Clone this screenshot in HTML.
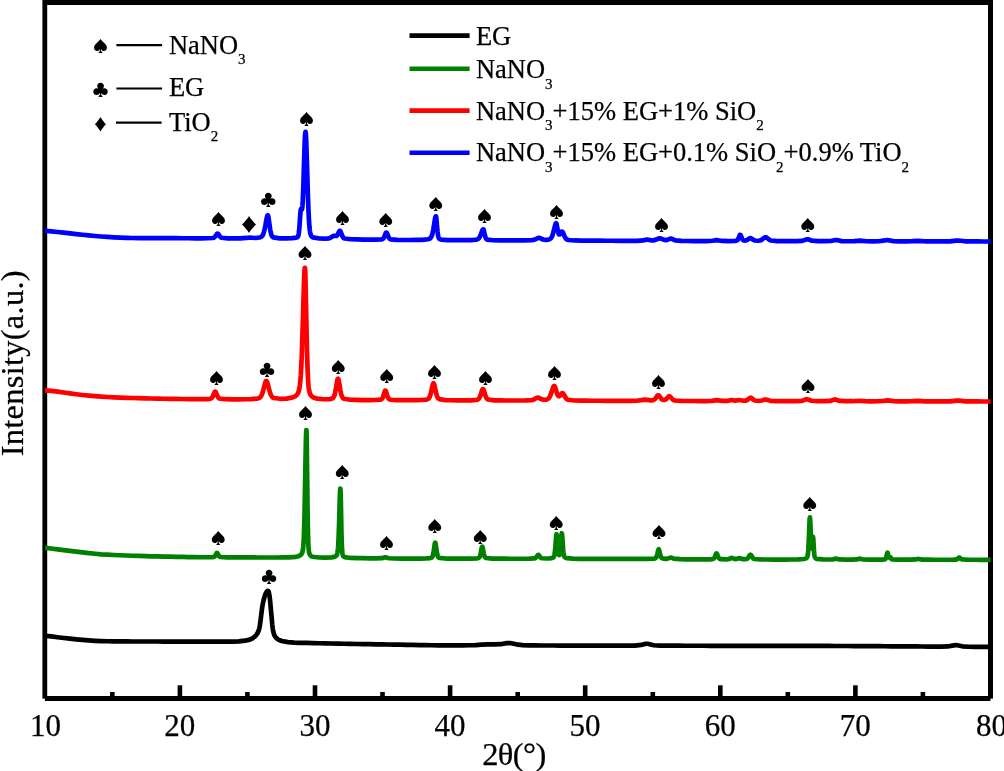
<!DOCTYPE html>
<html lang="en">
<head>
<meta charset="utf-8">
<title>XRD patterns</title>
<style>
html,body{margin:0;padding:0;background:#fff;}
body{width:1004px;height:771px;overflow:hidden;}
svg{display:block;}
text{font-family:"Liberation Serif","DejaVu Serif",serif;fill:#000;stroke:#000;stroke-width:0.25px;}
.c{fill:none;stroke-width:4.7;stroke-linejoin:round;stroke-linecap:butt;}
.t{font-size:31px;text-anchor:middle;}
.l{font-size:26.5px;}
.sub{font-size:15px;}
.s{font-family:"Noto Sans CJK SC","DejaVu Sans",sans-serif;text-anchor:middle;stroke:none;}
</style>
</head>
<body>
<svg width="1004" height="771" viewBox="0 0 1004 771">
<rect x="0" y="0" width="1004" height="771" fill="#fff"/>

<g fill="#000">
<rect x="42.4" y="0" width="4.8" height="698.6"/>
<rect x="988" y="0" width="5" height="698.6"/>
<rect x="44.9" y="0" width="945.6" height="5"/>
<rect x="44.9" y="696" width="945.6" height="5"/>
<rect x="177.6" y="685.3" width="4.6" height="11"/>
<rect x="312.7" y="685.3" width="4.6" height="11"/>
<rect x="447.8" y="685.3" width="4.6" height="11"/>
<rect x="582.9" y="685.3" width="4.6" height="11"/>
<rect x="718.0" y="685.3" width="4.6" height="11"/>
<rect x="853.1" y="685.3" width="4.6" height="11"/>
<rect x="110.0" y="692" width="4.6" height="5"/>
<rect x="245.1" y="692" width="4.6" height="5"/>
<rect x="380.2" y="692" width="4.6" height="5"/>
<rect x="515.4" y="692" width="4.6" height="5"/>
<rect x="650.5" y="692" width="4.6" height="5"/>
<rect x="785.5" y="692" width="4.6" height="5"/>
<rect x="920.6" y="692" width="4.6" height="5"/>
</g>
<path class="c" stroke="#000000" d="M45.00 635.83 L51.25 636.43 L57.50 637.21 L63.75 637.98 L70.00 638.69 L76.25 639.35 L82.50 639.92 L88.75 640.40 L95.00 640.81 L101.25 641.10 L107.50 641.26 L113.75 641.34 L120.00 641.40 L126.25 641.45 L132.50 641.49 L138.75 641.51 L145.00 641.51 L151.25 641.52 L157.50 641.52 L163.75 641.53 L170.00 641.54 L176.25 641.54 L182.50 641.55 L188.75 641.55 L195.00 641.56 L201.25 641.56 L207.50 641.57 L213.75 641.57 L220.00 641.58 L226.25 641.59 L232.50 641.59 L238.75 641.33 L245.00 640.69 L249.75 639.64 L252.50 638.28 L255.00 636.37 L256.25 635.02 L257.50 633.12 L258.25 631.61 L258.75 630.31 L259.25 628.59 L259.75 626.19 L260.50 620.95 L262.00 608.66 L262.75 604.06 L263.75 599.48 L265.00 595.21 L265.75 593.33 L266.50 592.02 L267.25 591.14 L267.50 590.95 L267.75 590.83 L268.00 590.84 L268.25 591.02 L268.50 591.43 L268.75 592.10 L269.00 593.07 L269.50 595.88 L270.00 599.74 L272.25 624.41 L272.75 628.52 L273.25 631.53 L273.75 633.55 L274.25 634.92 L275.00 636.34 L276.25 637.98 L277.75 639.34 L281.75 641.02 L288.00 642.15 L294.25 642.67 L300.50 642.83 L306.75 642.97 L313.00 643.10 L319.25 643.24 L325.50 643.38 L331.75 643.51 L338.00 643.64 L344.25 643.76 L350.50 643.87 L356.75 643.98 L363.00 644.09 L369.25 644.19 L375.50 644.30 L381.75 644.40 L388.00 644.51 L394.25 644.61 L400.50 644.72 L406.75 644.82 L413.00 644.93 L419.25 645.03 L425.50 645.13 L431.75 645.23 L438.00 645.31 L444.25 645.36 L450.50 645.37 L456.75 645.36 L463.00 645.34 L469.25 645.26 L475.50 645.04 L481.75 644.65 L488.00 644.36 L494.25 644.47 L500.50 644.21 L506.75 643.14 L510.00 643.04 L516.25 644.31 L522.50 645.15 L528.75 645.37 L535.00 645.44 L541.25 645.48 L547.50 645.50 L553.75 645.52 L560.00 645.54 L566.25 645.55 L572.50 645.57 L578.75 645.58 L585.00 645.59 L591.25 645.60 L597.50 645.61 L603.75 645.61 L610.00 645.62 L616.25 645.62 L622.50 645.62 L628.75 645.61 L635.00 645.54 L641.00 644.93 L645.75 643.73 L647.50 643.77 L653.75 645.27 L660.00 645.62 L666.25 645.68 L672.50 645.70 L678.75 645.72 L685.00 645.74 L691.25 645.75 L697.50 645.76 L703.75 645.77 L710.00 645.78 L716.25 645.79 L722.50 645.80 L728.75 645.81 L735.00 645.82 L741.25 645.83 L747.50 645.84 L753.75 645.85 L760.00 645.86 L766.25 645.87 L772.50 645.88 L778.75 645.89 L785.00 645.90 L791.25 645.91 L797.50 645.92 L803.75 645.93 L810.00 645.94 L816.25 645.95 L822.50 645.96 L828.75 645.97 L835.00 645.98 L841.25 645.99 L847.50 646.00 L853.75 646.03 L860.00 646.07 L866.25 646.11 L872.50 646.16 L878.75 646.20 L885.00 646.25 L891.25 646.29 L897.50 646.33 L903.75 646.38 L910.00 646.42 L916.25 646.46 L922.50 646.50 L928.75 646.54 L935.00 646.57 L941.25 646.59 L947.50 646.45 L953.75 645.34 L956.00 645.06 L962.25 646.29 L968.50 646.75 L974.75 646.85 L981.00 646.91 L987.25 646.96 L990.50 646.97"/>
<path class="c" stroke="#008000" d="M45.00 547.92 L51.25 548.51 L57.50 549.30 L63.75 550.14 L70.00 550.94 L76.25 551.69 L82.50 552.41 L88.75 553.12 L95.00 553.78 L101.25 554.32 L107.50 554.70 L113.75 554.98 L120.00 555.25 L126.25 555.52 L132.50 555.76 L138.75 555.97 L145.00 556.13 L151.25 556.29 L157.50 556.44 L163.75 556.58 L170.00 556.72 L176.25 556.84 L182.50 556.96 L188.75 557.07 L195.00 557.18 L201.25 557.25 L207.50 557.26 L213.00 557.08 L213.75 556.90 L214.25 556.65 L214.75 556.23 L215.25 555.57 L216.50 553.33 L216.75 553.05 L217.00 552.95 L217.25 553.05 L217.50 553.33 L218.75 555.58 L219.25 556.24 L219.75 556.67 L220.50 557.00 L226.75 557.34 L233.00 557.39 L239.25 557.42 L245.50 557.45 L251.75 557.46 L258.00 557.48 L264.25 557.49 L270.50 557.50 L276.75 557.49 L283.00 557.44 L289.25 557.32 L295.50 556.88 L298.50 556.21 L300.00 555.48 L300.75 554.90 L301.50 554.03 L302.00 553.14 L302.25 552.51 L302.50 551.67 L302.75 550.52 L303.00 548.91 L303.25 546.64 L303.50 543.45 L303.75 539.05 L304.00 533.12 L304.50 515.65 L305.75 447.35 L306.00 436.41 L306.25 430.02 L306.50 430.06 L306.75 441.83 L307.50 505.41 L307.75 522.15 L308.00 534.26 L308.25 542.28 L308.50 547.25 L308.75 550.20 L309.00 551.96 L309.25 553.07 L309.50 553.82 L310.00 554.80 L310.50 555.45 L311.25 556.08 L312.75 556.77 L319.00 557.52 L325.25 557.63 L331.50 557.40 L334.25 556.90 L335.50 556.35 L336.00 555.99 L336.50 555.44 L336.75 555.03 L337.00 554.46 L337.25 553.64 L337.50 552.44 L337.75 550.68 L338.00 548.14 L338.25 544.59 L338.50 539.81 L339.00 526.25 L339.75 500.07 L340.00 492.94 L340.25 488.66 L340.50 488.70 L340.75 496.54 L341.50 534.59 L341.75 543.14 L342.00 548.73 L342.25 552.06 L342.50 553.93 L342.75 554.98 L343.00 555.61 L343.25 556.03 L343.75 556.57 L344.50 557.06 L350.75 557.97 L357.00 558.13 L363.25 558.21 L369.50 558.28 L375.75 558.33 L382.00 558.19 L385.00 557.28 L385.50 557.25 L388.75 558.24 L395.00 558.50 L401.25 558.55 L407.50 558.57 L413.75 558.58 L420.00 558.56 L426.25 558.46 L430.25 558.10 L431.25 557.80 L431.75 557.49 L432.00 557.24 L432.25 556.91 L432.50 556.44 L432.75 555.81 L433.00 554.97 L433.50 552.56 L434.75 543.92 L435.00 542.91 L435.25 542.66 L435.50 543.23 L435.75 544.50 L436.75 551.65 L437.25 554.36 L437.50 555.34 L437.75 556.09 L438.00 556.65 L438.25 557.06 L438.75 557.57 L439.50 557.94 L445.75 558.53 L452.00 558.61 L458.25 558.64 L464.50 558.64 L470.75 558.61 L477.00 558.34 L478.25 558.07 L478.75 557.84 L479.25 557.41 L479.50 557.06 L479.75 556.59 L480.25 555.15 L480.75 552.96 L481.75 547.67 L482.00 546.91 L482.25 546.72 L482.50 547.15 L482.75 548.10 L483.75 553.46 L484.25 555.50 L484.50 556.24 L484.75 556.80 L485.00 557.22 L485.50 557.75 L486.00 558.03 L492.25 558.62 L498.50 558.69 L504.75 558.72 L511.00 558.73 L517.25 558.74 L523.50 558.73 L529.75 558.69 L534.25 558.45 L535.00 558.23 L535.50 557.95 L536.00 557.53 L537.75 555.16 L538.00 554.94 L538.25 554.84 L538.50 554.88 L538.75 555.06 L540.50 557.40 L541.00 557.85 L541.75 558.25 L548.00 558.52 L551.75 558.11 L552.75 557.78 L553.25 557.48 L553.50 557.25 L553.75 556.93 L554.00 556.46 L554.25 555.75 L554.50 554.70 L554.75 553.18 L555.00 551.08 L555.50 545.07 L556.00 537.95 L556.25 535.29 L556.50 534.25 L556.75 535.21 L557.00 537.78 L557.75 547.89 L558.00 550.50 L558.25 552.46 L558.50 553.81 L558.75 554.63 L559.00 555.03 L559.25 555.04 L559.50 554.69 L559.75 553.90 L560.00 552.59 L560.25 550.67 L560.75 544.85 L561.25 537.55 L561.50 534.61 L561.75 533.22 L562.00 533.89 L562.25 536.40 L563.00 547.28 L563.25 550.26 L563.50 552.58 L563.75 554.29 L564.00 555.48 L564.25 556.28 L564.50 556.81 L564.75 557.17 L565.25 557.61 L566.50 558.13 L572.75 558.69 L579.00 558.79 L585.25 558.84 L591.50 558.86 L597.75 558.88 L604.00 558.89 L610.25 558.90 L616.50 558.91 L622.75 558.92 L629.00 558.93 L635.25 558.93 L641.50 558.93 L647.75 558.90 L654.00 558.62 L655.00 558.39 L655.50 558.14 L656.00 557.65 L656.25 557.27 L656.75 556.11 L657.25 554.34 L658.25 550.07 L658.50 549.45 L658.75 549.30 L659.00 549.65 L659.25 550.42 L660.25 554.75 L660.75 556.40 L661.25 557.45 L661.75 558.04 L662.25 558.35 L666.00 558.81 L667.75 558.65 L670.50 557.61 L671.00 557.58 L671.75 557.79 L673.75 558.70 L680.00 559.19 L686.25 559.29 L692.50 559.37 L698.75 559.42 L705.00 559.43 L711.25 559.28 L712.75 559.06 L713.25 558.88 L713.75 558.53 L714.25 557.94 L714.75 557.02 L716.00 553.91 L716.25 553.52 L716.50 553.39 L716.75 553.52 L717.00 553.91 L718.25 557.01 L718.75 557.93 L719.25 558.53 L719.75 558.87 L721.00 559.19 L727.25 559.30 L729.00 558.97 L731.25 558.00 L731.75 557.94 L732.50 558.11 L734.50 558.94 L735.50 559.07 L736.75 558.89 L738.75 558.17 L739.25 558.12 L740.00 558.28 L742.25 559.08 L745.25 559.21 L746.50 559.00 L747.25 558.64 L747.75 558.22 L748.50 557.26 L749.75 555.18 L750.00 554.90 L750.25 554.74 L750.50 554.72 L750.75 554.86 L751.25 555.49 L752.50 557.58 L753.00 558.20 L753.50 558.64 L754.25 559.03 L760.50 559.47 L766.75 559.52 L773.00 559.54 L779.25 559.54 L785.50 559.54 L791.75 559.51 L798.00 559.43 L804.00 559.00 L805.50 558.57 L806.25 558.15 L806.75 557.70 L807.00 557.37 L807.25 556.89 L807.50 556.19 L807.75 555.10 L808.00 553.39 L808.25 550.79 L808.50 547.02 L809.00 535.68 L809.50 522.25 L809.75 517.94 L810.00 517.42 L810.25 520.90 L811.00 539.66 L811.25 544.36 L811.50 547.30 L811.75 548.32 L812.00 547.44 L812.25 544.90 L812.75 538.05 L813.00 536.80 L813.25 538.65 L814.00 550.95 L814.25 553.79 L814.50 555.65 L814.75 556.79 L815.00 557.46 L815.25 557.86 L815.75 558.33 L816.75 558.80 L823.00 559.44 L829.25 559.52 L833.00 559.33 L835.75 558.61 L836.50 558.65 L839.50 559.43 L845.75 559.60 L852.00 559.60 L856.50 559.42 L859.25 558.68 L860.00 558.66 L863.25 559.48 L869.50 559.63 L875.75 559.64 L882.00 559.57 L884.50 559.34 L885.00 559.18 L885.25 559.03 L885.50 558.79 L885.75 558.43 L886.00 557.89 L886.50 556.19 L887.00 553.95 L887.25 553.06 L887.50 552.70 L887.75 553.03 L888.50 556.00 L888.75 556.83 L889.00 557.37 L889.25 557.60 L889.50 557.55 L890.00 557.12 L890.25 557.11 L890.50 557.40 L891.25 558.75 L891.50 559.04 L891.75 559.23 L892.25 559.41 L898.50 559.66 L904.75 559.68 L911.00 559.68 L915.25 559.47 L917.75 558.93 L918.75 559.00 L922.25 559.64 L928.50 559.72 L934.75 559.73 L941.00 559.74 L947.25 559.74 L953.50 559.70 L956.00 559.55 L956.75 559.34 L957.50 558.91 L958.75 557.79 L959.00 557.64 L959.25 557.57 L959.50 557.60 L960.00 557.91 L961.25 559.02 L962.00 559.41 L968.25 559.75 L974.50 559.77 L980.75 559.78 L987.00 559.79 L990.50 559.79"/>
<path class="c" stroke="#ff0000" d="M45.00 390.31 L51.25 390.89 L57.50 391.67 L63.75 392.52 L70.00 393.38 L76.25 394.22 L82.50 394.96 L88.75 395.61 L95.00 396.18 L101.25 396.65 L107.50 397.01 L113.75 397.30 L120.00 397.56 L126.25 397.79 L132.50 398.01 L138.75 398.21 L145.00 398.37 L151.25 398.50 L157.50 398.62 L163.75 398.74 L170.00 398.85 L176.25 398.94 L182.50 399.02 L188.75 399.09 L195.00 399.15 L201.25 399.17 L207.50 399.06 L210.00 398.80 L210.75 398.57 L211.50 398.12 L212.00 397.60 L212.50 396.87 L213.25 395.33 L214.50 392.33 L214.75 391.92 L215.00 391.67 L215.25 391.61 L215.50 391.75 L215.75 392.07 L217.50 396.13 L218.00 397.06 L218.50 397.75 L219.00 398.22 L219.75 398.64 L226.00 399.22 L232.25 399.30 L238.50 399.31 L244.75 399.27 L251.00 399.14 L257.25 398.61 L258.75 398.19 L259.75 397.63 L260.50 396.92 L261.25 395.84 L262.00 394.26 L263.00 391.27 L265.00 383.49 L265.50 381.97 L265.75 381.43 L266.00 381.07 L266.25 380.92 L266.50 380.99 L266.75 381.26 L267.00 381.72 L267.50 383.13 L269.75 391.74 L270.50 393.96 L271.25 395.60 L272.00 396.73 L272.75 397.46 L273.75 398.03 L280.00 398.79 L286.25 398.60 L292.00 397.68 L294.50 396.69 L296.00 395.67 L297.00 394.65 L297.75 393.54 L298.25 392.51 L298.75 391.10 L299.25 389.07 L299.75 386.13 L300.25 381.82 L300.75 375.66 L301.25 367.12 L301.75 355.82 L302.75 324.97 L304.00 281.49 L304.25 275.06 L304.50 270.38 L304.75 267.81 L305.00 267.76 L305.25 271.92 L305.50 280.01 L307.00 350.92 L307.50 367.56 L308.00 378.76 L308.25 382.66 L308.50 385.68 L308.75 388.00 L309.00 389.77 L309.25 391.13 L309.75 393.03 L310.25 394.27 L311.00 395.51 L312.00 396.58 L313.50 397.57 L317.25 398.70 L323.50 399.25 L329.75 399.08 L331.75 398.67 L332.50 398.32 L333.00 397.93 L333.50 397.33 L334.00 396.42 L334.50 395.11 L335.00 393.29 L335.75 389.54 L337.00 381.86 L337.50 379.56 L337.75 378.91 L338.00 378.69 L338.25 378.92 L338.50 379.57 L339.00 381.89 L340.50 391.00 L341.25 394.37 L341.75 395.94 L342.25 397.05 L342.75 397.81 L343.25 398.31 L344.00 398.77 L350.25 399.73 L356.50 399.94 L362.75 400.03 L369.00 400.06 L375.25 400.01 L380.25 399.68 L381.00 399.46 L381.50 399.20 L382.00 398.77 L382.50 398.08 L383.00 397.05 L383.75 394.83 L384.75 391.45 L385.00 390.87 L385.25 390.55 L385.50 390.52 L385.75 390.79 L386.00 391.32 L387.50 396.27 L388.00 397.53 L388.50 398.42 L389.00 399.00 L389.50 399.35 L390.75 399.75 L397.00 400.12 L403.25 400.18 L409.50 400.20 L415.75 400.17 L422.00 400.02 L426.50 399.56 L427.75 399.14 L428.50 398.63 L429.00 398.07 L429.50 397.26 L430.00 396.11 L430.75 393.65 L432.50 385.54 L433.00 383.81 L433.25 383.32 L433.50 383.15 L433.75 383.32 L434.00 383.81 L434.50 385.55 L436.25 393.66 L437.00 396.13 L437.50 397.28 L438.00 398.09 L438.50 398.66 L439.25 399.17 L445.50 400.11 L451.75 400.27 L458.00 400.32 L464.25 400.33 L470.50 400.28 L476.50 399.89 L477.50 399.63 L478.25 399.23 L478.75 398.79 L479.25 398.15 L479.75 397.24 L480.50 395.33 L482.00 390.41 L482.25 389.76 L482.50 389.28 L482.75 389.02 L483.00 389.00 L483.25 389.22 L483.50 389.65 L484.00 391.02 L485.50 395.92 L486.25 397.66 L486.75 398.46 L487.25 399.01 L488.00 399.53 L494.25 400.32 L500.50 400.44 L506.75 400.48 L513.00 400.50 L519.25 400.50 L525.50 400.45 L531.75 400.14 L533.50 399.67 L537.00 397.69 L537.75 397.51 L538.25 397.55 L542.00 399.39 L543.75 399.74 L546.00 399.62 L547.25 399.26 L548.00 398.84 L548.75 398.17 L549.50 397.16 L550.25 395.73 L551.50 392.36 L553.00 387.75 L553.50 386.63 L553.75 386.26 L554.00 386.03 L554.25 385.97 L554.50 386.11 L554.75 386.45 L555.25 387.64 L557.00 393.38 L557.50 394.63 L558.00 395.54 L558.25 395.85 L558.50 396.08 L558.75 396.21 L559.00 396.25 L559.25 396.22 L559.75 395.93 L560.50 395.08 L561.50 393.71 L562.00 393.24 L562.25 393.13 L562.50 393.11 L562.75 393.20 L563.00 393.39 L563.50 394.01 L565.50 397.51 L566.25 398.49 L567.00 399.19 L568.00 399.75 L574.25 400.49 L580.50 400.63 L586.75 400.70 L593.00 400.74 L599.25 400.77 L605.50 400.80 L611.75 400.82 L618.00 400.83 L624.25 400.84 L630.50 400.83 L636.75 400.73 L643.00 399.86 L645.25 399.63 L651.25 400.33 L652.75 400.20 L653.75 399.84 L654.50 399.35 L655.50 398.29 L657.25 395.84 L657.75 395.38 L658.00 395.26 L658.25 395.23 L658.50 395.29 L658.75 395.44 L659.25 395.95 L661.25 398.65 L662.00 399.34 L662.75 399.77 L663.50 399.97 L664.25 399.98 L665.00 399.79 L665.75 399.38 L666.75 398.49 L668.25 396.75 L668.75 396.34 L669.00 396.22 L669.25 396.17 L669.50 396.20 L670.00 396.47 L672.50 399.29 L673.50 400.02 L674.75 400.49 L681.00 400.90 L687.25 400.98 L693.50 401.02 L699.75 401.04 L706.00 401.04 L712.25 400.82 L716.25 400.18 L722.50 400.95 L728.00 400.79 L731.50 400.04 L735.25 400.57 L739.00 400.01 L743.75 400.76 L745.50 400.65 L746.75 400.26 L748.00 399.47 L749.75 398.00 L750.25 397.75 L750.75 397.71 L751.25 397.88 L753.75 399.88 L755.00 400.50 L758.75 400.87 L761.75 400.48 L764.75 399.58 L765.75 399.55 L770.50 400.85 L776.75 401.12 L783.00 401.16 L789.25 401.17 L795.50 401.15 L801.75 400.85 L806.25 399.30 L807.00 399.22 L808.00 399.43 L811.50 400.74 L817.75 401.16 L824.00 401.17 L830.00 400.89 L834.50 399.50 L835.25 399.47 L840.00 400.91 L846.25 401.22 L852.50 401.22 L858.75 400.73 L865.00 401.19 L871.25 401.28 L877.50 401.25 L883.75 400.80 L887.50 400.34 L893.75 401.12 L900.00 401.31 L906.25 401.33 L912.50 401.22 L918.75 400.90 L925.00 401.31 L931.25 401.38 L937.50 401.39 L943.75 401.39 L950.00 401.31 L956.25 400.59 L959.00 400.50 L965.25 401.30 L971.50 401.43 L977.75 401.46 L984.00 401.48 L990.25 401.49 L990.50 401.49"/>
<path class="c" stroke="#0000ff" d="M45.00 230.78 L51.25 231.30 L57.50 231.99 L63.75 232.70 L70.00 233.39 L76.25 234.07 L82.50 234.73 L88.75 235.36 L95.00 235.97 L101.25 236.50 L107.50 236.93 L113.75 237.32 L120.00 237.66 L126.25 237.90 L132.50 238.01 L138.75 238.05 L145.00 238.08 L151.25 238.11 L157.50 238.13 L163.75 238.16 L170.00 238.19 L176.25 238.21 L182.50 238.24 L188.75 238.26 L195.00 238.28 L201.25 238.29 L207.50 238.27 L212.75 238.01 L213.75 237.71 L214.50 237.24 L215.25 236.46 L216.75 234.23 L217.25 233.71 L217.50 233.60 L217.75 233.61 L218.00 233.74 L218.50 234.30 L220.00 236.54 L220.75 237.30 L221.50 237.76 L227.75 238.33 L234.00 238.38 L240.25 238.37 L246.50 237.97 L249.50 237.53 L255.75 237.98 L259.50 237.54 L260.75 237.11 L261.50 236.65 L262.00 236.18 L262.50 235.53 L263.00 234.63 L263.50 233.41 L264.25 230.88 L265.25 226.14 L266.75 217.95 L267.25 216.08 L267.50 215.53 L267.75 215.30 L268.00 215.49 L268.25 216.24 L268.50 217.49 L270.25 229.88 L270.75 232.46 L271.25 234.33 L271.75 235.60 L272.25 236.43 L272.75 236.95 L273.50 237.41 L279.75 238.30 L286.00 238.38 L292.25 238.17 L296.25 237.60 L297.25 237.22 L297.50 237.05 L297.75 236.80 L298.00 236.42 L298.25 235.82 L298.50 234.91 L298.75 233.55 L299.00 231.64 L299.50 225.97 L300.25 214.98 L300.50 211.98 L300.75 209.92 L301.00 208.94 L301.25 208.87 L301.75 209.56 L302.00 209.24 L302.25 207.86 L302.50 205.15 L302.75 201.00 L303.25 188.74 L304.50 148.14 L304.75 141.45 L305.00 136.27 L305.25 132.98 L305.50 131.87 L305.75 133.02 L306.00 136.34 L306.25 141.57 L308.00 198.01 L308.50 211.07 L309.00 220.77 L309.50 227.37 L309.75 229.72 L310.00 231.55 L310.25 232.96 L310.50 234.04 L310.75 234.86 L311.00 235.48 L311.50 236.31 L312.00 236.82 L313.00 237.40 L319.25 238.52 L325.50 238.72 L328.50 238.46 L330.00 237.96 L333.25 235.99 L334.00 235.77 L336.00 235.97 L336.50 235.85 L337.00 235.50 L337.50 234.87 L339.25 231.29 L339.50 230.95 L339.75 230.78 L340.00 230.81 L340.25 231.04 L340.50 231.44 L342.25 235.89 L342.75 236.87 L343.25 237.59 L343.75 238.09 L344.50 238.54 L350.75 239.26 L357.00 239.43 L363.25 239.53 L369.50 239.61 L375.75 239.64 L381.50 239.39 L382.25 239.19 L382.75 238.94 L383.25 238.52 L383.75 237.88 L384.25 236.96 L385.75 233.20 L386.00 232.76 L386.25 232.51 L386.50 232.49 L386.75 232.70 L387.00 233.11 L388.50 236.90 L389.00 237.86 L389.50 238.54 L390.00 238.99 L390.75 239.36 L397.00 239.89 L403.25 239.98 L409.50 239.99 L415.75 239.96 L422.00 239.83 L428.00 239.24 L429.25 238.86 L430.00 238.44 L430.50 238.00 L431.00 237.36 L431.50 236.42 L432.00 235.11 L432.50 233.33 L433.25 229.68 L435.00 218.83 L435.25 217.67 L435.50 216.82 L435.75 216.36 L436.00 216.40 L436.25 217.66 L437.50 231.31 L438.00 235.06 L438.25 236.30 L438.50 237.22 L438.75 237.87 L439.00 238.33 L439.25 238.65 L439.75 239.06 L441.25 239.60 L447.50 240.08 L453.75 240.16 L460.00 240.19 L466.25 240.17 L472.50 240.03 L476.50 239.63 L477.50 239.30 L478.25 238.83 L479.00 238.08 L479.75 236.91 L480.75 234.66 L482.25 230.59 L482.75 229.64 L483.00 229.37 L483.25 229.25 L483.50 229.41 L483.75 230.03 L485.00 235.66 L485.50 237.39 L486.00 238.53 L486.50 239.19 L487.00 239.56 L493.25 240.26 L499.50 240.35 L505.75 240.38 L512.00 240.40 L518.25 240.41 L524.50 240.39 L530.75 240.27 L533.75 239.92 L535.75 239.16 L538.00 238.00 L538.75 237.84 L539.50 237.94 L543.00 239.49 L545.50 239.83 L548.50 239.55 L549.75 239.14 L550.50 238.65 L551.00 238.15 L551.50 237.46 L552.00 236.52 L552.75 234.54 L555.25 224.71 L555.50 224.00 L555.75 223.49 L556.00 223.21 L556.25 223.23 L556.50 223.79 L556.75 224.81 L558.00 231.65 L558.50 233.45 L558.75 234.01 L559.00 234.36 L559.25 234.50 L559.50 234.47 L559.75 234.30 L560.25 233.64 L561.25 232.00 L561.50 231.72 L561.75 231.55 L562.00 231.53 L562.25 231.65 L562.50 231.91 L563.00 232.78 L564.75 236.81 L565.50 238.09 L566.25 238.97 L567.00 239.51 L568.50 240.01 L574.75 240.47 L581.00 240.59 L587.25 240.65 L593.50 240.69 L599.75 240.72 L606.00 240.75 L612.25 240.77 L618.50 240.79 L624.75 240.81 L631.00 240.81 L637.25 240.79 L643.00 240.45 L646.50 239.65 L648.00 239.71 L651.75 240.41 L654.00 240.28 L659.00 238.44 L659.75 238.36 L660.75 238.52 L664.25 239.89 L665.75 240.08 L667.25 239.84 L670.25 238.65 L671.00 238.58 L671.75 238.74 L675.25 240.32 L681.50 240.91 L687.75 240.99 L694.00 241.03 L700.25 241.05 L706.50 241.04 L712.75 240.76 L716.25 240.19 L722.50 240.97 L728.75 241.03 L735.00 240.86 L736.50 240.62 L737.00 240.41 L737.50 240.03 L738.00 239.38 L738.50 238.39 L739.50 235.74 L739.75 235.19 L740.00 234.83 L740.25 234.75 L740.50 234.94 L740.75 235.38 L742.00 238.57 L742.50 239.47 L743.00 240.03 L743.50 240.35 L744.25 240.54 L745.75 240.48 L747.00 240.07 L749.75 238.28 L750.25 238.14 L750.75 238.18 L751.50 238.54 L753.50 239.96 L754.75 240.49 L758.00 240.76 L760.00 240.49 L761.25 240.03 L764.75 237.47 L765.25 237.27 L765.75 237.24 L766.25 237.38 L769.50 239.84 L771.00 240.52 L777.25 241.06 L783.50 241.13 L789.75 241.16 L796.00 241.14 L802.25 240.88 L807.00 239.29 L807.75 239.23 L808.75 239.45 L812.00 240.70 L818.25 241.17 L824.50 241.19 L830.75 241.02 L835.50 239.99 L836.75 240.03 L841.75 241.09 L848.00 241.24 L854.25 241.18 L860.00 240.70 L866.25 241.24 L872.50 241.28 L878.75 241.24 L885.00 240.45 L887.25 240.05 L893.50 241.11 L899.75 241.31 L906.00 241.33 L912.25 241.21 L918.50 240.79 L924.75 241.28 L931.00 241.38 L937.25 241.39 L943.50 241.39 L949.75 241.32 L956.00 240.62 L958.75 240.48 L965.00 241.28 L971.25 241.43 L977.50 241.46 L983.75 241.48 L990.00 241.49 L990.50 241.49"/>
<text class="t" x="45.4" y="736">10</text>
<text class="t" x="179.8" y="736">20</text>
<text class="t" x="314.9" y="736">30</text>
<text class="t" x="450.0" y="736">40</text>
<text class="t" x="585.1" y="736">50</text>
<text class="t" x="720.2" y="736">60</text>
<text class="t" x="855.3" y="736">70</text>
<text class="t" x="991.4" y="736">80</text>
<text x="482.2" y="764.9" font-size="32.5" letter-spacing="-0.6">2θ(°)</text>
<text transform="translate(23.3 456.3) rotate(-90)" font-size="32.5" letter-spacing="0.26">Intensity(a.u.)</text>
<g stroke="#000" stroke-width="2.2"><line x1="116.4" y1="45.1" x2="162.1" y2="45.1"/><line x1="116.4" y1="88.5" x2="162.1" y2="88.5"/><line x1="115.9" y1="122.7" x2="161.6" y2="122.7"/></g>
<text x="100.5" y="52.2" font-size="15.5" class="s">♠</text>
<text x="100.6" y="96.0" font-size="16.6" class="s">♣</text>
<text x="100.5" y="129.8" font-size="15.4" class="s">♦</text>
<text class="l" x="168.9" y="54.1">NaNO<tspan class="sub" dy="9.8">3</tspan></text>
<text class="l" x="168.9" y="96.2">EG</text>
<text class="l" x="168.9" y="130.6">TiO<tspan class="sub" dy="10.6">2</tspan></text>
<line x1="409.5" y1="35.6" x2="469.6" y2="35.6" stroke="#000" stroke-width="4.6"/>
<line x1="409.5" y1="68.8" x2="469.6" y2="68.8" stroke="#008000" stroke-width="4.6"/>
<line x1="409.5" y1="110.6" x2="469.6" y2="110.6" stroke="#f00" stroke-width="4.6"/>
<line x1="409.5" y1="152.7" x2="469.6" y2="152.7" stroke="#00f" stroke-width="4.6"/>
<text class="l" x="475.9" y="44.7">EG</text>
<text class="l" x="475.9" y="78.2">NaNO<tspan class="sub" dy="10.6">3</tspan></text>
<text class="l" x="475.9" y="119.5">NaNO<tspan class="sub" dy="10.6">3</tspan><tspan dy="-10.6">+15% EG+1% SiO</tspan><tspan class="sub" dy="10.6">2</tspan></text>
<text class="l" x="475.9" y="161.3">NaNO<tspan class="sub" dy="10.6">3</tspan><tspan dy="-10.6">+15% EG+0.1% SiO</tspan><tspan class="sub" dy="10.6">2</tspan><tspan dy="-10.6">+0.9% TiO</tspan><tspan class="sub" dy="10.6">2</tspan></text>
<text x="218.4" y="224.9" font-size="15.5" class="s">♠</text>
<text x="306.4" y="124.5" font-size="15.5" class="s">♠</text>
<text x="342.4" y="224.4" font-size="15.5" class="s">♠</text>
<text x="385.8" y="226.2" font-size="15.5" class="s">♠</text>
<text x="435.7" y="209.9" font-size="15.5" class="s">♠</text>
<text x="484.6" y="221.8" font-size="15.5" class="s">♠</text>
<text x="556.4" y="217.6" font-size="15.5" class="s">♠</text>
<text x="661.6" y="231.2" font-size="15.5" class="s">♠</text>
<text x="807.7" y="231.2" font-size="15.5" class="s">♠</text>
<text x="216.5" y="384.1" font-size="15.5" class="s">♠</text>
<text x="304.9" y="259.2" font-size="15.5" class="s">♠</text>
<text x="338.3" y="372.6" font-size="15.5" class="s">♠</text>
<text x="386.7" y="381.8" font-size="15.5" class="s">♠</text>
<text x="434.6" y="377.9" font-size="15.5" class="s">♠</text>
<text x="485.5" y="383.6" font-size="15.5" class="s">♠</text>
<text x="554.5" y="379.0" font-size="15.5" class="s">♠</text>
<text x="658.5" y="388.4" font-size="15.5" class="s">♠</text>
<text x="807.9" y="391.8" font-size="15.5" class="s">♠</text>
<text x="218.2" y="543.9" font-size="15.5" class="s">♠</text>
<text x="305.5" y="418.7" font-size="15.5" class="s">♠</text>
<text x="342.3" y="478.1" font-size="15.5" class="s">♠</text>
<text x="386.6" y="549.0" font-size="15.5" class="s">♠</text>
<text x="434.7" y="531.9" font-size="15.5" class="s">♠</text>
<text x="480.2" y="542.6" font-size="15.5" class="s">♠</text>
<text x="556.3" y="528.7" font-size="15.5" class="s">♠</text>
<text x="659.1" y="537.6" font-size="15.5" class="s">♠</text>
<text x="809.7" y="509.7" font-size="15.5" class="s">♠</text>
<text x="268.3" y="206.1" font-size="16.6" class="s">♣</text>
<text x="267.1" y="375.8" font-size="16.6" class="s">♣</text>
<text x="269.0" y="583.3" font-size="16.6" class="s">♣</text>
<text transform="translate(249.0 231.1) scale(1.08 1)" font-size="18.1" class="s">♦</text>
</svg>
</body>
</html>
